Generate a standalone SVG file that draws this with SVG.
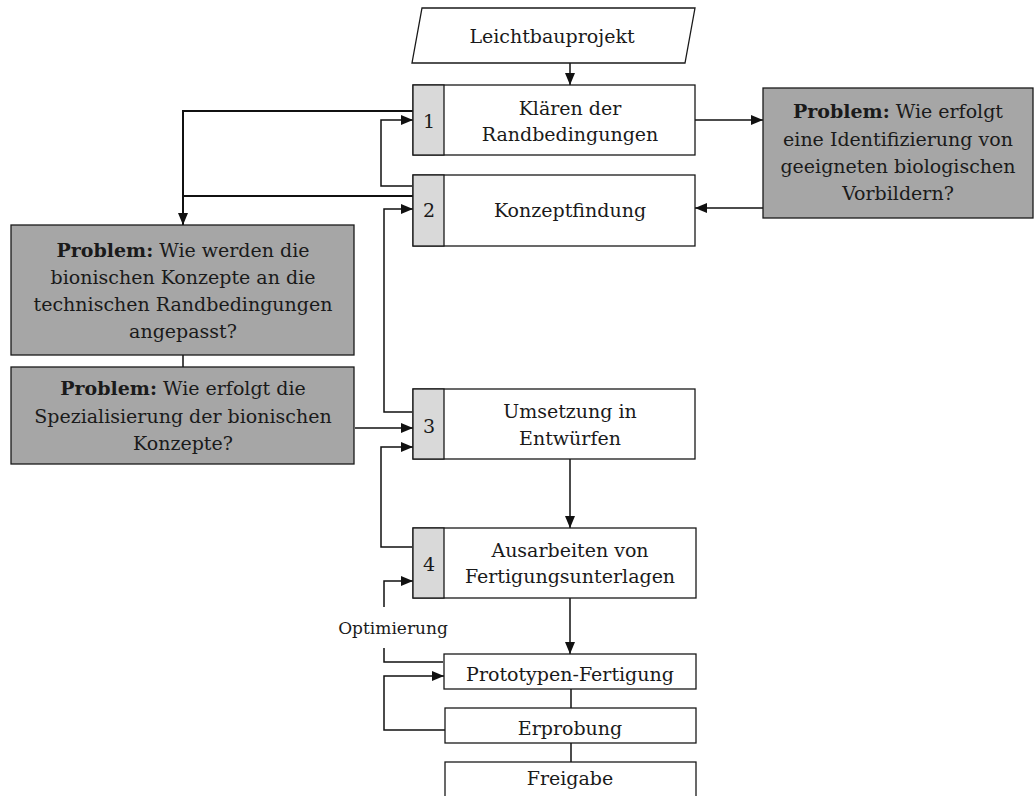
<svg xmlns="http://www.w3.org/2000/svg" width="1035" height="796" viewBox="0 0 1035 796">
  <style>
    .box { fill: #ffffff; stroke: #1a1a1a; stroke-width: 1.3; }
    .num { fill: #d9d9d9; stroke: #1a1a1a; stroke-width: 1.3; }
    .prob { fill: #a6a6a6; stroke: #1a1a1a; stroke-width: 1.3; }
    .t { font-family: "DejaVu Serif", "Liberation Serif", serif; font-size: 19px; fill: #1a1a1a; text-anchor: middle; }
    .b { font-weight: bold; }
    .small { font-size: 17px; }
    .c { fill: none; stroke: #111111; stroke-width: 1.5; }
    .c2 { fill: none; stroke: #111111; stroke-width: 2; }
  </style>
  <defs>
    <marker id="arr" markerUnits="userSpaceOnUse" markerWidth="13" markerHeight="11" refX="12" refY="5" orient="auto">
      <path d="M0,0 L12,5 L0,10 z" fill="#111111"/>
    </marker>
  </defs>

  <rect width="1035" height="796" fill="#ffffff"/>

  <!-- connectors -->
  <g id="connectors">
    <path class="c" d="M570,63 V85" marker-end="url(#arr)"/>
    <path class="c" d="M695,120 H763" marker-end="url(#arr)"/>
    <path class="c" d="M763,208 H695" marker-end="url(#arr)"/>
    <path class="c2" d="M413,111 H183 V225" marker-end="url(#arr)"/>
    <path class="c2" d="M413,196 H183"/>
    <path class="c" d="M412,186 H381 V120 H413" marker-end="url(#arr)"/>
    <path class="c" d="M412,412 H384 V209 H413" marker-end="url(#arr)"/>
    <path class="c" d="M183,355 V367"/>
    <path class="c" d="M355,428 H413" marker-end="url(#arr)"/>
    <path class="c" d="M412,547 H381 V447 H413" marker-end="url(#arr)"/>
    <path class="c" d="M570,459 V528" marker-end="url(#arr)"/>
    <path class="c" d="M570,598 V654" marker-end="url(#arr)"/>
    <path class="c" d="M443,662 H384 V648"/>
    <path class="c" d="M384,607 V581 H413" marker-end="url(#arr)"/>
    <path class="c" d="M445,730 H384 V676 H444" marker-end="url(#arr)"/>
    <path class="c" d="M571,689 V708"/>
    <path class="c" d="M571,743 V762"/>
    <text class="t small" x="393" y="634">Optimierung</text>
  </g>

  <!-- start -->
  <g id="start">
    <polygon class="box" points="422,8 695,8 685,63 412,63"/>
    <text class="t" x="552" y="43">Leichtbauprojekt</text>
  </g>

  <!-- step 1 -->
  <g id="step1">
    <rect class="box" x="413" y="85" width="282" height="70"/>
    <rect class="num" x="413" y="85" width="31" height="70"/>
    <text class="t" x="429" y="128">1</text>
    <text class="t" x="570" y="115">Klären der</text>
    <text class="t" x="570" y="141">Randbedingungen</text>
  </g>

  <!-- step 2 -->
  <g id="step2">
    <rect class="box" x="413" y="175" width="282" height="71"/>
    <rect class="num" x="413" y="175" width="31" height="71"/>
    <text class="t" x="429" y="217">2</text>
    <text class="t" x="570" y="217">Konzeptfindung</text>
  </g>

  <!-- step 3 -->
  <g id="step3">
    <rect class="box" x="413" y="389" width="282" height="70"/>
    <rect class="num" x="413" y="389" width="31" height="70"/>
    <text class="t" x="429" y="433">3</text>
    <text class="t" x="570" y="418">Umsetzung in</text>
    <text class="t" x="570" y="445">Entwürfen</text>
  </g>

  <!-- step 4 -->
  <g id="step4">
    <rect class="box" x="413" y="528" width="283" height="70"/>
    <rect class="num" x="413" y="528" width="31" height="70"/>
    <text class="t" x="429" y="571">4</text>
    <text class="t" x="570" y="557">Ausarbeiten von</text>
    <text class="t" x="570" y="583">Fertigungsunterlagen</text>
  </g>

  <!-- prototype -->
  <g id="prototyp">
    <rect class="box" x="444" y="654" width="252" height="35"/>
    <text class="t" x="570" y="681">Prototypen-Fertigung</text>
  </g>

  <g id="erprobung">
    <rect class="box" x="445" y="708" width="251" height="35"/>
    <text class="t" x="570" y="735">Erprobung</text>
  </g>

  <g id="freigabe">
    <rect class="box" x="445" y="762" width="251" height="40"/>
    <text class="t" x="570" y="785">Freigabe</text>
  </g>

  <!-- problem boxes -->
  <g id="problem-vorbilder">
    <rect class="prob" x="763" y="88" width="270" height="130"/>
    <text class="t" x="898" y="118"><tspan class="b">Problem:</tspan> Wie erfolgt</text>
    <text class="t" x="898" y="146">eine Identifizierung von</text>
    <text class="t" x="898" y="173">geeigneten biologischen</text>
    <text class="t" x="898" y="200">Vorbildern?</text>
  </g>

  <g id="problem-anpassung">
    <rect class="prob" x="11" y="225" width="343" height="130"/>
    <text class="t" x="183" y="257"><tspan class="b">Problem:</tspan> Wie werden die</text>
    <text class="t" x="183" y="284">bionischen Konzepte an die</text>
    <text class="t" x="183" y="311">technischen Randbedingungen</text>
    <text class="t" x="183" y="338">angepasst?</text>
  </g>

  <g id="problem-spezialisierung">
    <rect class="prob" x="11" y="367" width="343" height="97"/>
    <text class="t" x="183" y="395"><tspan class="b">Problem:</tspan> Wie erfolgt die</text>
    <text class="t" x="183" y="423">Spezialisierung der bionischen</text>
    <text class="t" x="183" y="450">Konzepte?</text>
  </g>
</svg>
